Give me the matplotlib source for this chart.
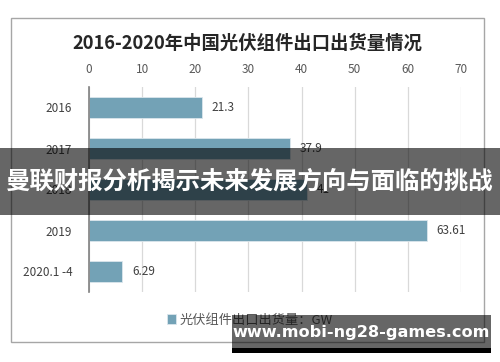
import matplotlib
matplotlib.use('Agg')
import matplotlib.pyplot as plt
from matplotlib.patches import Rectangle

plt.rcParams['font.family'] = ['Noto Sans CJK SC', 'DejaVu Sans']

# data (2018 hidden behind the banner)
years = ['2016', '2017', '2018', '2019', '2020.1 -4']
exports = [21.3, 37.9, 41, 63.61, 6.29]
value_labels = ['21.3', '37.9', '41', '63.61', '6.29']
x_ticks = [0, 10, 20, 30, 40, 50, 60, 70]

title = '2016-2020年中国光伏组件出口出货量情况'
legend_label = '光伏组件出口出货量：GW'
banner_text = '曼联财报分析揭示未来发展方向与面临的挑战'
watermark = 'www.mobi-ng28-games.com'

W, H = 500, 362
bar_color = '#73a2b6'
text_color = '#404040'


def fx(px):
    return px / W


def fy(py):
    return 1 - py / H


fig = plt.figure(figsize=(W / 100, H / 100), dpi=100)

# outer chart frame
fig.patches.append(Rectangle((fx(11), fy(342)), fx(473), 324 / H, transform=fig.transFigure,
                             fill=False, edgecolor='#a6a6a6', linewidth=1.0))

ax = fig.add_axes([fx(89), fy(292), fx(461) - fx(89), (292 - 87) / H])
ypos = list(range(len(years)))
bars = ax.barh(ypos, exports, height=0.5, color=bar_color, edgecolor='#dbe6ec',
               linewidth=0.6, label=legend_label, zorder=3)
for y, v, s in zip(ypos, exports, value_labels):
    ax.text(v + 1.8, y, s, va='center', ha='left', fontsize=8.5, color=text_color, zorder=4)

ax.set_xlim(0, 70)
ax.set_ylim(len(years) - 0.5, -0.5)
ax.set_xticks(x_ticks)
ax.set_yticks(ypos)
ax.set_yticklabels(years, fontsize=8.5, color=text_color)
ax.xaxis.tick_top()
ax.tick_params(axis='x', length=0, pad=8, labelsize=8.5, labelcolor='#595959')
ax.tick_params(axis='y', length=0, pad=12)
ax.grid(axis='x', color='#d9d9d9', linewidth=0.9, zorder=0)
for side in ['top', 'right', 'bottom']:
    ax.spines[side].set_visible(False)
ax.spines['left'].set_color('#808080')
ax.spines['left'].set_linewidth(1.2)
ax.spines['left'].set_zorder(5)

fig.text(fx(247), fy(43), title, ha='center', va='center', fontsize=13.2,
         fontweight='bold', color='#262626')

fig.legend(handles=[bars], labels=[legend_label], loc='center', bbox_to_anchor=(fx(250), fy(320)),
           frameon=False, fontsize=9.5, handlelength=0.7, handleheight=0.7, handletextpad=0.3,
           labelcolor='#595959')

# dark banner across the middle
fig.patches.append(Rectangle((0, fy(215)), 1, (215 - 148) / H, transform=fig.transFigure,
                             facecolor='black', alpha=0.6, edgecolor='none', zorder=10))
fig.text(0.5, fy(182), banner_text, ha='center', va='center', fontsize=17.6,
         fontweight='bold', color='white', zorder=11)

# watermark box bottom right
fig.patches.append(Rectangle((fx(232), fy(348)), fx(259), (348 - 315) / H, transform=fig.transFigure,
                             facecolor='black', alpha=0.6, edgecolor='none', zorder=10))
fig.patches.append(Rectangle((fx(232), fy(353)), fx(259), 5 / H, transform=fig.transFigure,
                             facecolor='black', edgecolor='none', zorder=10))
fig.text(fx(361), fy(333), watermark, ha='center', va='center', fontsize=11.6,
         fontweight='bold', color='white', family='DejaVu Sans', zorder=11)

fig.savefig('out.png', dpi=100)
